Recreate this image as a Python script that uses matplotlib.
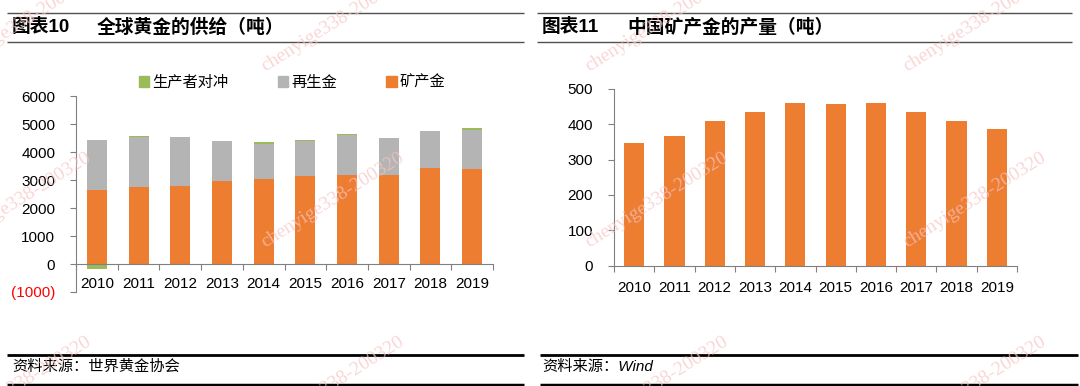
import numpy as np
import matplotlib
matplotlib.use('Agg')
import matplotlib.pyplot as plt
from matplotlib.lines import Line2D
from matplotlib.patches import Patch

plt.rcParams['font.family'] = ['Liberation Sans', 'Noto Sans CJK SC', 'DejaVu Sans']

# Data
years = ['2010', '2011', '2012', '2013', '2014', '2015', '2016', '2017', '2018', '2019']
mine_supply = [2630, 2740, 2770, 2960, 3030, 3150, 3170, 3180, 3440, 3380]
recycled = [1790, 1810, 1770, 1420, 1240, 1250, 1440, 1320, 1320, 1420]
hedging = [-170, 20, -40, -30, 70, 12, 30, -30, -10, 45]
china_mine = [347, 367, 409, 434, 459, 456, 460, 433, 408, 387]

left_yticks = [-1000, 0, 1000, 2000, 3000, 4000, 5000, 6000]
left_ylabels = ['(1000)', '0', '1000', '2000', '3000', '4000', '5000', '6000']

ORANGE = '#ED7D31'
GREY = '#B4B4B4'
GREEN = '#9BBB59'
AXIS = '#808080'

W, H = 1080, 386
fig = plt.figure(figsize=(W / 100, H / 100), dpi=100)


def fx(x):
    return x / W


def fy(y):
    return 1 - y / H


def hline(x0, x1, y, lw, color):
    fig.add_artist(Line2D([fx(x0), fx(x1)], [fy(y), fy(y)], transform=fig.transFigure,
                          lw=lw, color=color, solid_capstyle='butt'))


def style_axes(ax, xpad):
    for s in ['top', 'right']:
        ax.spines[s].set_visible(False)
    ax.spines['left'].set_color(AXIS)
    ax.spines['bottom'].set_color(AXIS)
    ax.spines['bottom'].set_position(('data', 0))
    x = np.arange(len(years))
    ax.set_xlim(-0.5, len(years) - 0.5)
    ax.set_xticks(np.arange(-0.5, len(years), 1))
    ax.set_xticklabels([])
    ax.set_xticks(x, minor=True)
    ax.set_xticklabels(years, minor=True)
    ax.tick_params(axis='x', which='major', length=4, color=AXIS, direction='out')
    ax.tick_params(axis='x', which='minor', length=0, pad=xpad, labelsize=11)
    ax.tick_params(axis='y', length=4, color=AXIS, direction='out', pad=11, labelsize=11)


# ---- left chart: global gold supply ----
ax1 = fig.add_axes([fx(76), fy(292), fx(493) - fx(76), fy(96) - fy(292)])
x = np.arange(len(years))
mine = np.array(mine_supply)
rec = np.array(recycled)
hed = np.array(hedging)
ax1.bar(x, mine, width=0.48, color=ORANGE, zorder=2)
ax1.bar(x, rec, width=0.48, bottom=mine, color=GREY, zorder=2)
hed_bottom = np.where(hed > 0, mine + rec, 0)
ax1.bar(x, hed, width=0.48, bottom=hed_bottom, color=GREEN, zorder=2)
ax1.set_ylim(-1000, 6000)
ax1.set_yticks(left_yticks)
ax1.set_yticklabels(left_ylabels)
style_axes(ax1, 9.5)
ax1.get_yticklabels()[0].set_color('red')

handles = [Patch(color=GREEN), Patch(color=GREY), Patch(color=ORANGE)]
fig.legend(handles, ['生产者对冲', '再生金', '矿产金'], loc='center', bbox_to_anchor=(fx(292), fy(83)),
           ncol=3, frameon=False, fontsize=11, handlelength=0.7, handleheight=0.7,
           handletextpad=0.2, columnspacing=3.2)

# ---- right chart: China mine production ----
ax2 = fig.add_axes([fx(614), fy(265.7), fx(1017) - fx(614), fy(88.7) - fy(265.7)])
ax2.bar(x, china_mine, width=0.5, color=ORANGE, zorder=2)
ax2.set_ylim(0, 500)
ax2.set_yticks([0, 100, 200, 300, 400, 500])
style_axes(ax2, 11)

# ---- titles and footers ----
for x0, x1, tx0, tx1, num, title in [(7, 524, 12, 97, '图表10', '全球黄金的供给（吨）'),
                                      (537, 1072, 542, 627, '图表11', '中国矿产金的产量（吨）')]:
    hline(x0, x1, 12.5, 1.0, '#505050')
    hline(x0, x1, 42, 1.0, '#505050')
    fig.text(fx(tx0), fy(27.5), num, fontsize=13.5, fontweight='bold', va='center', ha='left')
    fig.text(fx(tx1), fy(27.5), title, fontsize=13.5, fontweight='bold', va='center', ha='left')

for x0, x1, tx, src in [(7, 524, 12, '资料来源：世界黄金协会'), (540, 1078, 542, '资料来源：Wind')]:
    hline(x0, x1, 355, 2.0, 'black')
    hline(x0, x1, 384.5, 2.5, 'black')
    fig.text(fx(tx), fy(366.5), src, fontsize=11, style='italic', va='center', ha='left')

# watermark
for wy in [24, 200, 384]:
    for wx in [20, 333, 657, 975]:
        fig.text(fx(wx), fy(wy), 'chenyige338-200320', family='Liberation Serif', fontsize=14,
                 color='#F7C4C4', alpha=0.7, rotation=32, rotation_mode='anchor',
                 ha='center', va='center', zorder=10)

fig.savefig('out.png', dpi=100)
